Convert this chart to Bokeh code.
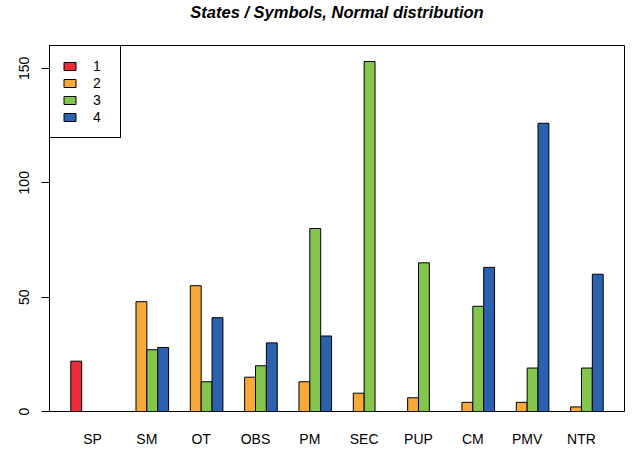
from bokeh.plotting import figure
from bokeh.models import Range1d, FixedTicker, ColumnDataSource, Legend, LegendItem, Title
from bokeh.embed import file_html
from bokeh.resources import INLINE

# ---- data ----
categories = ["SP", "SM", "OT", "OBS", "PM", "SEC", "PUP", "CM", "PMV", "NTR"]
series_names = ["1", "2", "3", "4"]
s1 = [22, 0, 0, 0, 0, 0, 0, 0, 0, 0]
s2 = [0, 48, 55, 15, 13, 8, 6, 4, 4, 2]
s3 = [0, 27, 13, 20, 80, 153, 65, 46, 19, 19]
s4 = [0, 28, 41, 30, 33, 0, 0, 63, 126, 60]
y_ticks = [0, 50, 100, 150]

series = [s1, s2, s3, s4]
colors = ["#EE2B38", "#F9A83A", "#84C54E", "#2A62AF"]
FONT = "Liberation Sans"

n_series = len(series)
group_span = n_series + 1  # R barplot beside: one empty unit between groups
n_groups = len(categories)
x_lo = 1
x_hi = n_groups * group_span
pad = 0.04 * (x_hi - x_lo)

p = figure(
    width=638, height=450,
    x_range=Range1d(x_lo - pad, x_hi + pad),
    y_range=Range1d(0, 160),
    output_backend="svg", toolbar_location=None,
    min_border_left=49, min_border_right=14,
    min_border_top=45, min_border_bottom=39,
    title="States / Symbols, Normal distribution",
)
p.background_fill_color = "white"
p.border_fill_color = "white"
p.outline_line_color = "black"
p.outline_line_width = 1
p.outline_line_alpha = 1
p.xgrid.visible = False
p.ygrid.visible = False

p.title.text_font = FONT
p.title.text_font_style = "bold italic"
p.title.text_font_size = "16.5px"
p.title.align = "center"
p.title.vertical_align = "top"
p.title.standoff = 0
p.title.text_color = "black"

# empty spacer between the title and the plot frame
p.add_layout(Title(text=" ", text_font_size="1px", standoff=20), "above")

renderers = []
for si, vals in enumerate(series):
    xs = [g * group_span + si + 1.5 for g in range(n_groups)]
    src = ColumnDataSource(dict(x=xs, top=vals))
    r = p.vbar(x="x", top="top", bottom=0, width=1, source=src,
               fill_color=colors[si], line_color="black", line_width=1)
    renderers.append(r)

# y axis
yax = p.yaxis[0]
yax.ticker = FixedTicker(ticks=y_ticks)
yax.major_tick_out = 8
yax.major_tick_in = 0
yax.minor_tick_out = 0
yax.minor_tick_in = 0
yax.axis_line_color = None
yax.major_tick_line_color = "black"
yax.major_label_orientation = "vertical"
yax.major_label_text_font = FONT
yax.major_label_text_font_size = "14px"
yax.major_label_text_color = "black"
yax.major_label_standoff = 13

# x axis: group names at group centres
centers = [g * group_span + (n_series + 2) / 2 for g in range(n_groups)]
xax = p.xaxis[0]
xax.ticker = FixedTicker(ticks=centers)
xax.major_label_overrides = {c: name for c, name in zip(centers, categories)}
xax.major_tick_out = 0
xax.major_tick_in = 0
xax.minor_tick_out = 0
xax.minor_tick_in = 0
xax.axis_line_color = None
xax.major_label_text_font = FONT
xax.major_label_text_font_size = "14px"
xax.major_label_text_color = "black"
xax.major_label_standoff = 19

legend = Legend(
    items=[LegendItem(label=n, renderers=[r]) for n, r in zip(series_names, renderers)],
    location="top_left", margin=0, padding=12, spacing=1,
    glyph_width=15, glyph_height=10, label_height=15, label_width=15,
    label_standoff=16, label_text_font=FONT, label_text_font_size="14px",
    label_text_color="black",
    border_line_color="black", border_line_width=1, border_line_alpha=1,
    background_fill_color="white", background_fill_alpha=1,
)
p.add_layout(legend)

open("out.html", "w").write(file_html(p, INLINE))
